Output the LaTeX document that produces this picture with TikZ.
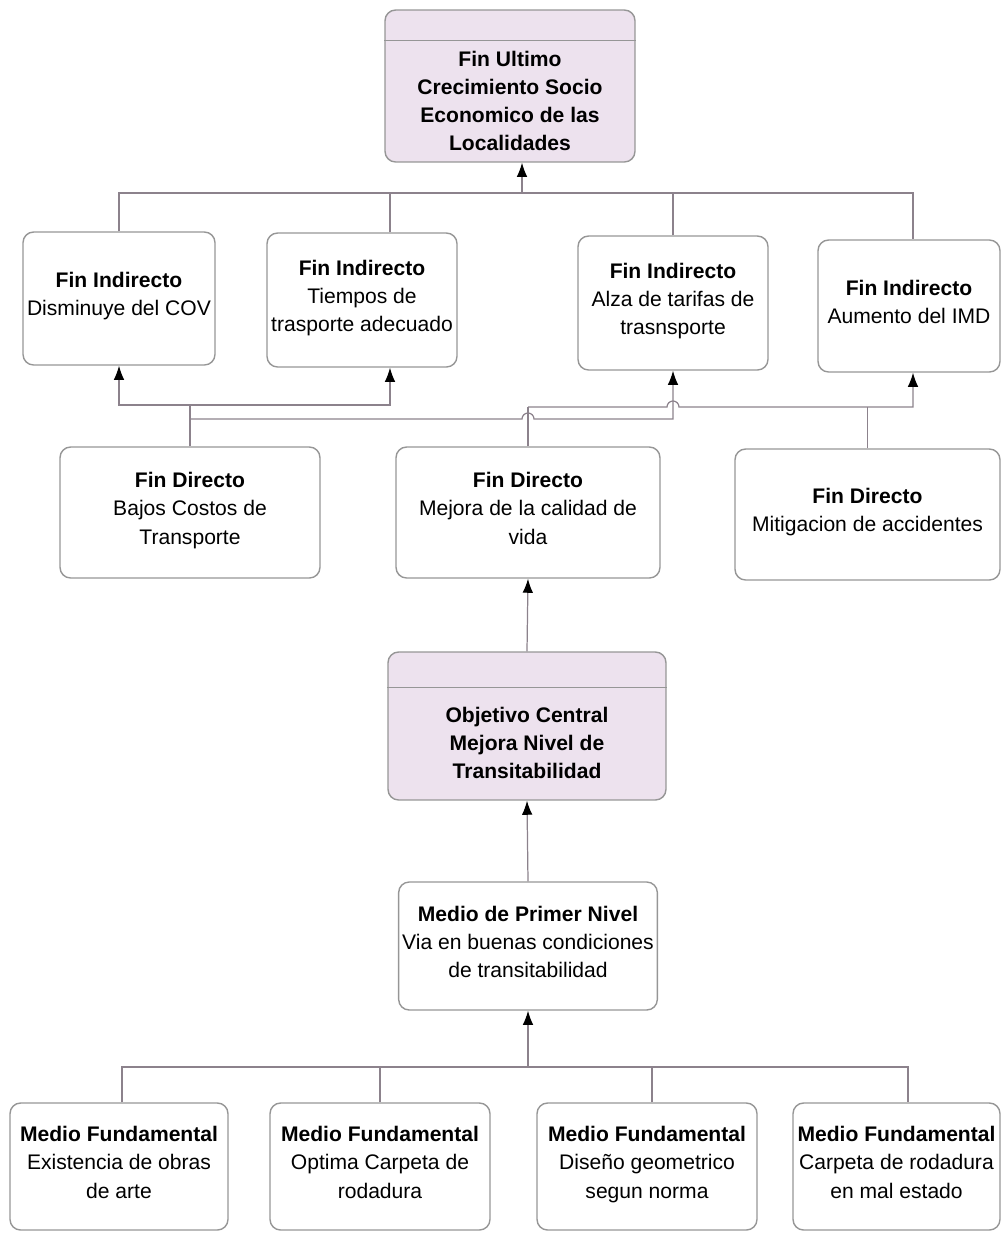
\documentclass[tikz,border=0pt]{standalone}
\usepackage{fontspec}
\setmainfont{Liberation Sans}
\usetikzlibrary{arrows.meta}
\definecolor{lila}{RGB}{237,226,238}
\definecolor{rand}{RGB}{150,150,150}
\definecolor{verb}{RGB}{140,130,140}
\newcommand{\cajafont}{\fontsize{12}{16}\selectfont\lineskiplimit=-8pt\relax}
\begin{document}
\begin{tikzpicture}[
      x=0.02cm, y=0.02cm,
      font=\cajafont,
      caja/.style={draw=rand, line width=0.8pt, rounded corners=6pt, align=center, inner sep=2pt, execute at end node=\strut},
      meta/.style={caja, fill=lila},
      linea/.style={draw=verb, line width=0.7pt},
      flecha/.style={linea, -{Latex[length=8pt,width=6pt,color=black]}}
    ]
      \useasboundingbox (0,0) rectangle (1001,-1235);
      % fin ultimo
      \node[meta, minimum width=5.0cm, minimum height=3.04cm] (ultimo) at (510,-86) {};
      \draw[rand, line width=0.8pt] ([yshift=-0.62cm]ultimo.north west) -- ([yshift=-0.62cm]ultimo.north east);
      \node[align=center, font=\cajafont\bfseries] (ultimotxt) at (510,-101) {Fin Ultimo\\ Crecimiento Socio\\ Economico de las\\ Localidades};
      % fines indirectos
      \node[caja, minimum width=3.84cm, minimum height=2.66cm] (fi1) at (119,-298.5) {\textbf{Fin Indirecto}\\ Disminuye del COV};
      \node[caja, minimum width=3.8cm, minimum height=2.68cm] (fi2) at (362,-300) {\textbf{Fin Indirecto}\\ Tiempos de\\ trasporte adecuado};
      \node[caja, minimum width=3.8cm, minimum height=2.68cm] (fi3) at (673,-303) {\textbf{Fin Indirecto}\\ Alza de tarifas de\\ trasnsporte};
      \node[caja, minimum width=3.64cm, minimum height=2.64cm] (fi4) at (909,-306) {\textbf{Fin Indirecto}\\ Aumento del IMD};
      % fines directos
      \node[caja, minimum width=5.2cm, minimum height=2.62cm] (fd1) at (190,-512.5) {\textbf{Fin Directo}\\ Bajos Costos de\\ Transporte};
      \node[caja, minimum width=5.28cm, minimum height=2.62cm] (fd2) at (528,-512.5) {\textbf{Fin Directo}\\ Mejora de la calidad de\\ vida};
      \node[caja, minimum width=5.3cm, minimum height=2.62cm] (fd3) at (867.5,-514.5) {\textbf{Fin Directo}\\ Mitigacion de accidentes};
      % objetivo central
      \node[meta, minimum width=5.56cm, minimum height=2.96cm] (oc) at (527,-726) {};
      \draw[rand, line width=0.8pt] ([yshift=-0.72cm]oc.north west) -- ([yshift=-0.72cm]oc.north east);
      \node[align=center, font=\cajafont\bfseries] (octxt) at (527,-743) {Objetivo Central\\ Mejora Nivel de\\ Transitabilidad};
      % medios
      \node[caja, minimum width=5.12cm, minimum height=2.56cm] (mpn) at (528,-946) {\textbf{Medio de Primer Nivel}\\ Via en buenas condiciones\\ de transitabilidad};
      \node[caja, minimum width=4.36cm, minimum height=2.54cm] (mf1) at (119,-1166.5) {\textbf{Medio Fundamental}\\ Existencia de obras\\ de arte};
      \node[caja, minimum width=4.4cm, minimum height=2.54cm] (mf2) at (380,-1166.5) {\textbf{Medio Fundamental}\\ Optima Carpeta de\\ rodadura};
      \node[caja, minimum width=4.4cm, minimum height=2.54cm] (mf3) at (647,-1166.5) {\textbf{Medio Fundamental}\\ Diseño geometrico\\ segun norma};
      \node[caja, minimum width=4.14cm, minimum height=2.54cm] (mf4) at (896.5,-1166.5) {\textbf{Medio Fundamental}\\ Carpeta de rodadura\\ en mal estado};
      % verbindungen oben
      \coordinate (jtop) at (522,-193);
      \draw[flecha] (jtop) -- (jtop |- ultimo.south);
      \draw[linea] (fi1.north) |- (jtop) -| ([xshift=0.08cm]fi4.north);
      \draw[linea] ([xshift=0.56cm]fi2.north) |- (jtop);
      \draw[linea] (fi3.north) |- (jtop);
      % verbindungen mitte
      \coordinate (ja) at (190,-405);
      \coordinate (jb) at (190,-419);
      \coordinate (jc) at (528,-407);
      \draw[linea] (fd1.north) -- (ja);
      \draw[flecha] (ja) -| (fi1.south);
      \draw[flecha] (ja) -| ([xshift=0.56cm]fi2.south);
      \draw[flecha] (jb) -- ([xshift=-0.12cm]jb -| fd2.north) arc[start angle=180, end angle=0, radius=0.12cm] -| (fi3.south);
      \draw[linea] (fd2.north) -- (jc);
      \draw[flecha] (jc) -- ([xshift=-0.12cm]jc -| fi3.south) arc[start angle=180, end angle=0, radius=0.12cm] -| ([xshift=0.08cm]fi4.south);
      \draw[linea] (fd3.north) -- (fd3.north |- jc);
      \draw[flecha] (oc.north) -- (fd2.south);
      \draw[flecha] (mpn.north) -- (oc.south);
      % verbindungen unten
      \coordinate (jbot) at (528,-1067);
      \draw[flecha] (jbot) -- (mpn.south);
      \draw[linea] ([xshift=0.06cm]mf1.north) |- (jbot) -| ([xshift=0.23cm]mf4.north);
      \draw[linea] (mf2.north) |- (jbot);
      \draw[linea] ([xshift=0.1cm]mf3.north) |- (jbot);
    \end{tikzpicture}
\end{document}
